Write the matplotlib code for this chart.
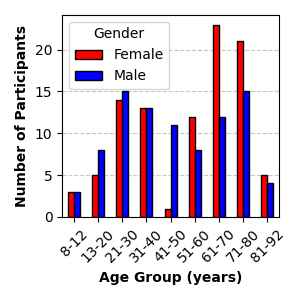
import numpy as np
import matplotlib
matplotlib.use("Agg")
import matplotlib.pyplot as plt

# ----------------------------------------------------------------------
age_groups = ["8-12", "13-20", "21-30", "31-40", "41-50", "51-60", "61-70", "71-80", "81-92"]
female = [3, 5, 14, 13, 1, 12, 23, 21, 5]
male = [3, 8, 15, 13, 11, 8, 12, 15, 4]
# ----------------------------------------------------------------------

fig, ax = plt.subplots(figsize=(3, 3), dpi=100)
x = np.arange(len(age_groups))
w = 0.25
ax.bar(x - w / 2, female, w, color="red", edgecolor="black", label="Female", zorder=3)
ax.bar(x + w / 2, male, w, color="blue", edgecolor="black", label="Male", zorder=3)

ax.set_xlim(-0.5, len(age_groups) - 0.5)
ax.set_ylim(0, max(max(female), max(male)) * 1.05)
ax.set_xticks(x)
ax.set_xticklabels(age_groups, rotation=45)
ax.set_yticks([0, 5, 10, 15, 20])
ax.yaxis.grid(True, linestyle="--", alpha=0.7, zorder=0)
ax.set_axisbelow(True)

ax.set_xlabel("Age Group (years)", fontweight="bold")
ax.set_ylabel("Number of Participants", fontweight="bold")
ax.legend(title="Gender", loc="upper left")

fig.subplots_adjust(left=0.207, right=0.93, top=0.95, bottom=0.277)
fig.savefig("out.png")
